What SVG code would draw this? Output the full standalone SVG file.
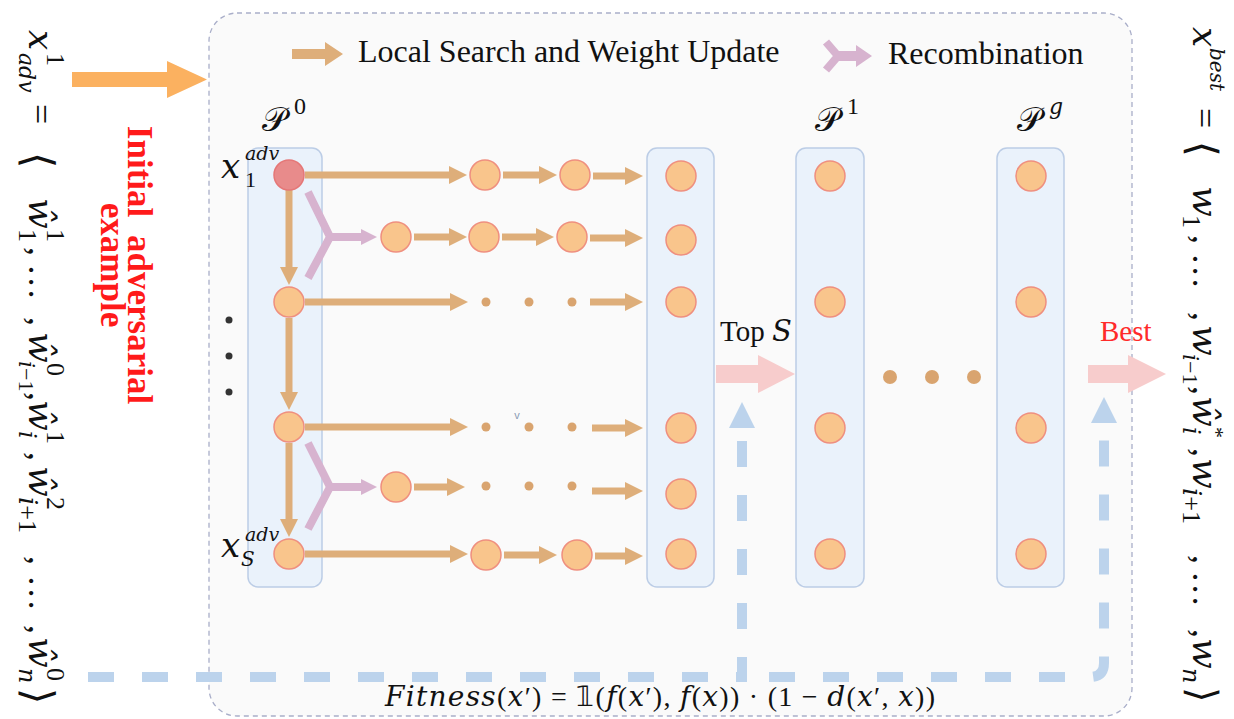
<svg xmlns="http://www.w3.org/2000/svg" width="1234" height="719" viewBox="0 0 1234 719">
<defs>
<style>
.serif{font-family:"Liberation Serif",serif;}
.it{font-family:"DejaVu Serif","Liberation Serif",serif;font-style:italic;}
.br{font-family:"Noto Sans CJK JP","DejaVu Sans",serif;font-style:normal;font-weight:300;}
.node{fill:#f9c58c;stroke:#ef8f7f;stroke-width:1.5;}
.col{fill:#eaf2fb;stroke:#bccde6;stroke-width:1.5;}
.ls{stroke:#deae7a;stroke-width:7;fill:none;marker-end:url(#tan);}
.rc{stroke:#d7b3cf;stroke-width:8;fill:none;}
.rca{stroke:#d7b3cf;stroke-width:8;fill:none;marker-end:url(#pur);}
.dot{fill:#d9a46f;}
.fb{stroke:#bcd3ec;stroke-width:10;fill:none;stroke-dasharray:26 28;}
.big{fill:#f7cccc;}
</style>
<marker id="tan" markerUnits="userSpaceOnUse" markerWidth="18" markerHeight="18" viewBox="0 0 18 18" refX="1" refY="9" orient="auto"><path d="M0,0 L18,9 L0,18 z" fill="#deae7a"/></marker>
<marker id="pur" markerUnits="userSpaceOnUse" markerWidth="18" markerHeight="18" viewBox="0 0 18 18" refX="1" refY="9" orient="auto"><path d="M0,1 L16,9 L0,17 z" fill="#d7b3cf"/></marker>
</defs>
<rect width="1234" height="719" fill="#ffffff"/>

<g id="container">
<rect x="209" y="13" width="923" height="703" rx="28" fill="#fafafa" stroke="#a9aec9" stroke-width="1.3" stroke-dasharray="5 4"/>
</g>

<g id="legend">
<path d="M292,49 H325 V42 L343,54 L325,66 V59 H292 z" fill="#deae7a"/>
<text class="serif" x="358" y="62" font-size="32" fill="#111">Local Search and Weight Update</text>
<path d="M826,42 L838,56 L826,70" stroke="#d7b3cf" stroke-width="8" fill="none"/>
<path d="M836,51 H856 V45 L872,56 L856,67 V61 H836 z" fill="#d7b3cf"/>
<text class="serif" x="888" y="64" font-size="32" fill="#111">Recombination</text>
</g>

<g id="left-label">
<text class="serif" font-size="36" fill="#111" transform="translate(29,0) rotate(90)"><tspan class="it" x="30" y="0">x</tspan><tspan font-size="26" x="53" y="-18">1</tspan><tspan class="it" font-size="22" x="53" y="10">adv</tspan><tspan x="104" y="0">=</tspan><tspan class="br" font-size="42" x="152" y="5">⟨</tspan><tspan class="it" x="198" y="0">ŵ</tspan><tspan font-size="26" x="229" y="-18">1</tspan><tspan font-size="26" x="229" y="10">1</tspan><tspan x="247" y="0">,</tspan><tspan x="264" y="0">…</tspan><tspan x="317" y="0">,</tspan><tspan class="it" x="332" y="0">ŵ</tspan><tspan font-size="26" x="363" y="-18">0</tspan><tspan font-size="22" x="361" y="10"><tspan class="it">i</tspan>−1</tspan><tspan x="392" y="0">,</tspan><tspan class="it" x="400" y="0">ŵ</tspan><tspan font-size="26" x="431" y="-18">1</tspan><tspan class="it" font-size="24" x="431" y="10">i</tspan><tspan x="452" y="0">,</tspan><tspan class="it" x="466" y="0">ŵ</tspan><tspan font-size="26" x="497" y="-18">2</tspan><tspan font-size="26" x="497" y="10"><tspan class="it">i</tspan>+1</tspan><tspan x="556" y="0">,</tspan><tspan x="575" y="0">…</tspan><tspan x="625" y="0">,</tspan><tspan class="it" x="637" y="0">ŵ</tspan><tspan font-size="26" x="668" y="-18">0</tspan><tspan class="it" font-size="24" x="668" y="10">n</tspan><tspan class="br" font-size="42" x="688" y="5">⟩</tspan></text>
</g>

<g id="right-label">
<text class="serif" font-size="36" fill="#111" transform="translate(1193,0) rotate(90)"><tspan class="it" x="27" y="0">x</tspan><tspan class="it" font-size="20" x="48" y="-17">best</tspan><tspan x="108" y="0">=</tspan><tspan class="br" font-size="40" x="141" y="4">⟨</tspan><tspan class="it" x="186" y="0">w</tspan><tspan font-size="26" x="215" y="10">1</tspan><tspan x="235" y="0">,</tspan><tspan x="253" y="0">…</tspan><tspan x="312" y="0">,</tspan><tspan class="it" x="325" y="0">w</tspan><tspan font-size="22" x="354" y="10"><tspan class="it">i</tspan>−1</tspan><tspan x="386" y="0">,</tspan><tspan class="it" x="396" y="0">ŵ</tspan><tspan font-size="22" x="427" y="-16">*</tspan><tspan class="it" font-size="24" x="427" y="10">i</tspan><tspan x="448" y="0">,</tspan><tspan class="it" x="458" y="0">w</tspan><tspan font-size="26" x="488" y="10"><tspan class="it">i</tspan>+1</tspan><tspan x="555" y="0">,</tspan><tspan x="571" y="0">…</tspan><tspan x="629" y="0">,</tspan><tspan class="it" x="638" y="0">w</tspan><tspan class="it" font-size="24" x="668" y="10">n</tspan><tspan class="br" font-size="40" x="687" y="4">⟩</tspan></text>
</g>

<g id="input-arrow">
<path d="M72,72 H167 V61 L207,79.5 L167,98 V87 H72 z" fill="#fbb160"/>
<text class="serif" font-weight="bold" font-size="35" fill="#ff1a1a" text-anchor="middle" transform="translate(128,265) rotate(90)"><tspan x="0" y="0" word-spacing="9">Initial adversarial</tspan><tspan x="0" y="27">example</tspan></text>
</g>

<g id="col-P0"><rect class="col" x="248" y="148" width="74" height="439" rx="10"/>
<text class="serif" font-size="34" fill="#111"><tspan x="262" y="131">𝒫</tspan><tspan font-size="24" x="294" y="114">0</tspan></text></g>
<g id="col-mid"><rect class="col" x="647" y="148" width="67" height="439" rx="10"/></g>
<g id="col-P1"><rect class="col" x="796" y="148" width="68" height="439" rx="10"/>
<text class="serif" font-size="34" fill="#111"><tspan x="815" y="131">𝒫</tspan><tspan font-size="24" x="847" y="114">1</tspan></text></g>
<g id="col-Pg"><rect class="col" x="997" y="148" width="67" height="439" rx="10"/>
<text class="serif" font-size="34" fill="#111"><tspan x="1017" y="131">𝒫</tspan><tspan class="it" font-size="22" x="1049" y="114">g</tspan></text></g>

<g id="connectors">
<line class="ls" x1="289" y1="190" x2="289" y2="268"/>
<line class="ls" x1="289" y1="318" x2="289" y2="393"/>
<line class="ls" x1="289" y1="443" x2="289" y2="520"/>
<line class="ls" x1="305" y1="175" x2="450" y2="175"/>
<line class="ls" x1="503" y1="175" x2="540" y2="175"/>
<line class="ls" x1="593" y1="176" x2="626" y2="176"/>
<path class="rc" d="M308,192 L330,237 L308,278"/>
<line class="rca" x1="328" y1="237" x2="362" y2="237"/>
<line class="ls" x1="414" y1="237" x2="450" y2="237"/>
<line class="ls" x1="502" y1="237" x2="537" y2="237"/>
<line class="ls" x1="590" y1="238" x2="626" y2="238"/>
<line class="ls" x1="305" y1="302" x2="451" y2="302"/>
<line class="ls" x1="590" y1="302" x2="626" y2="302"/>
<line class="ls" x1="305" y1="427" x2="451" y2="427"/>
<line class="ls" x1="592" y1="428" x2="626" y2="428"/>
<path class="rc" d="M308,443 L330,487 L308,529"/>
<line class="rca" x1="328" y1="487" x2="362" y2="487"/>
<line class="ls" x1="414" y1="487" x2="448" y2="487"/>
<line class="ls" x1="592" y1="491" x2="626" y2="491"/>
<line class="ls" x1="305" y1="554" x2="451" y2="554"/>
<line class="ls" x1="504" y1="555" x2="540" y2="555"/>
<line class="ls" x1="595" y1="556" x2="626" y2="556"/>
<circle class="dot" cx="486" cy="302" r="4.5"/><circle class="dot" cx="529" cy="302" r="4.5"/><circle class="dot" cx="572" cy="302" r="4.5"/>
<circle class="dot" cx="486" cy="427" r="4.5"/><circle class="dot" cx="529" cy="427" r="4.5"/><circle class="dot" cx="572" cy="427" r="4.5"/>
<circle class="dot" cx="486" cy="486" r="4.5"/><circle class="dot" cx="529" cy="486" r="4.5"/><circle class="dot" cx="572" cy="486" r="4.5"/>
<text x="517" y="419" font-family="Liberation Sans, sans-serif" font-size="11" fill="#8a9bb5" text-anchor="middle">v</text>
<path class="big" d="M716,365 H758 V355 L795,374 L758,393 V383 H716 z"/>
<path class="big" d="M1088,365 H1128 V355 L1166,374 L1128,393 V383 H1088 z"/>
<circle class="dot" cx="890" cy="377" r="7"/><circle class="dot" cx="932" cy="377" r="7"/><circle class="dot" cx="974" cy="377" r="7"/>
<path class="fb" d="M88,677 H742 V434"/>
<path class="fb" d="M769,677 H1090 Q1104,677 1104,663 V428"/>
<polygon points="729,428 755,428 742,402" fill="#bcd3ec"/>
<polygon points="1091,423 1117,423 1104,397" fill="#bcd3ec"/>
</g>

<g id="ellipsis-left">
<circle cx="229" cy="320" r="3.5" fill="#333"/><circle cx="229" cy="356" r="3.5" fill="#333"/><circle cx="229" cy="392" r="3.5" fill="#333"/>
</g>

<g id="nodes-P0">
<circle cx="289" cy="175" r="15" fill="#e88b8b" stroke="#e57777" stroke-width="1.5"/>
<circle class="node" cx="289" cy="302" r="15"/>
<circle class="node" cx="289" cy="427" r="15"/>
<circle class="node" cx="289" cy="554" r="15"/>
<text class="serif" font-size="34" fill="#111"><tspan class="it" x="221" y="178">x</tspan><tspan font-size="22" x="245" y="187">1</tspan><tspan class="it" font-size="19" x="245" y="160">adv</tspan></text>
<text class="serif" font-size="34" fill="#111"><tspan class="it" x="221" y="557">x</tspan><tspan class="it" font-size="20" x="241" y="566">S</tspan><tspan class="it" font-size="19" x="245" y="541">adv</tspan></text>
</g>
<g id="nodes-search">
<circle class="node" cx="485" cy="175" r="15"/><circle class="node" cx="575" cy="175" r="15"/>
<circle class="node" cx="396" cy="237" r="15"/><circle class="node" cx="484" cy="237" r="15"/><circle class="node" cx="572" cy="237" r="15"/>
<circle class="node" cx="396" cy="487" r="15"/>
<circle class="node" cx="486" cy="555" r="15"/><circle class="node" cx="577" cy="555" r="15"/>
</g>
<g id="nodes-mid">
<circle class="node" cx="681" cy="176" r="15"/><circle class="node" cx="681" cy="240" r="15"/><circle class="node" cx="681" cy="302" r="15"/>
<circle class="node" cx="681" cy="428" r="15"/><circle class="node" cx="681" cy="494" r="15"/><circle class="node" cx="681" cy="554" r="15"/>
</g>
<g id="nodes-P1">
<circle class="node" cx="830" cy="176" r="15"/><circle class="node" cx="830" cy="302" r="15"/><circle class="node" cx="830" cy="428" r="15"/><circle class="node" cx="830" cy="554" r="15"/>
</g>
<g id="nodes-Pg">
<circle class="node" cx="1031" cy="176" r="15"/><circle class="node" cx="1031" cy="302" r="15"/><circle class="node" cx="1031" cy="428" r="15"/><circle class="node" cx="1031" cy="554" r="15"/>
</g>

<g id="labels">
<text class="serif" x="720" y="341" font-size="29" fill="#111">Top <tspan class="it">S</tspan></text>
<text class="serif" x="1100" y="341" font-size="29" fill="#ff2a2a">Best</text>
<text class="serif" x="385" y="706" font-size="28" fill="#111" textLength="550" lengthAdjust="spacing"><tspan class="it">Fitness</tspan>(<tspan class="it">x</tspan>′) = 𝟙(<tspan class="it">f</tspan>(<tspan class="it">x</tspan>′), <tspan class="it">f</tspan>(<tspan class="it">x</tspan>)) · (1 − <tspan class="it">d</tspan>(<tspan class="it">x</tspan>′, <tspan class="it">x</tspan>))</text>
</g>
</svg>
